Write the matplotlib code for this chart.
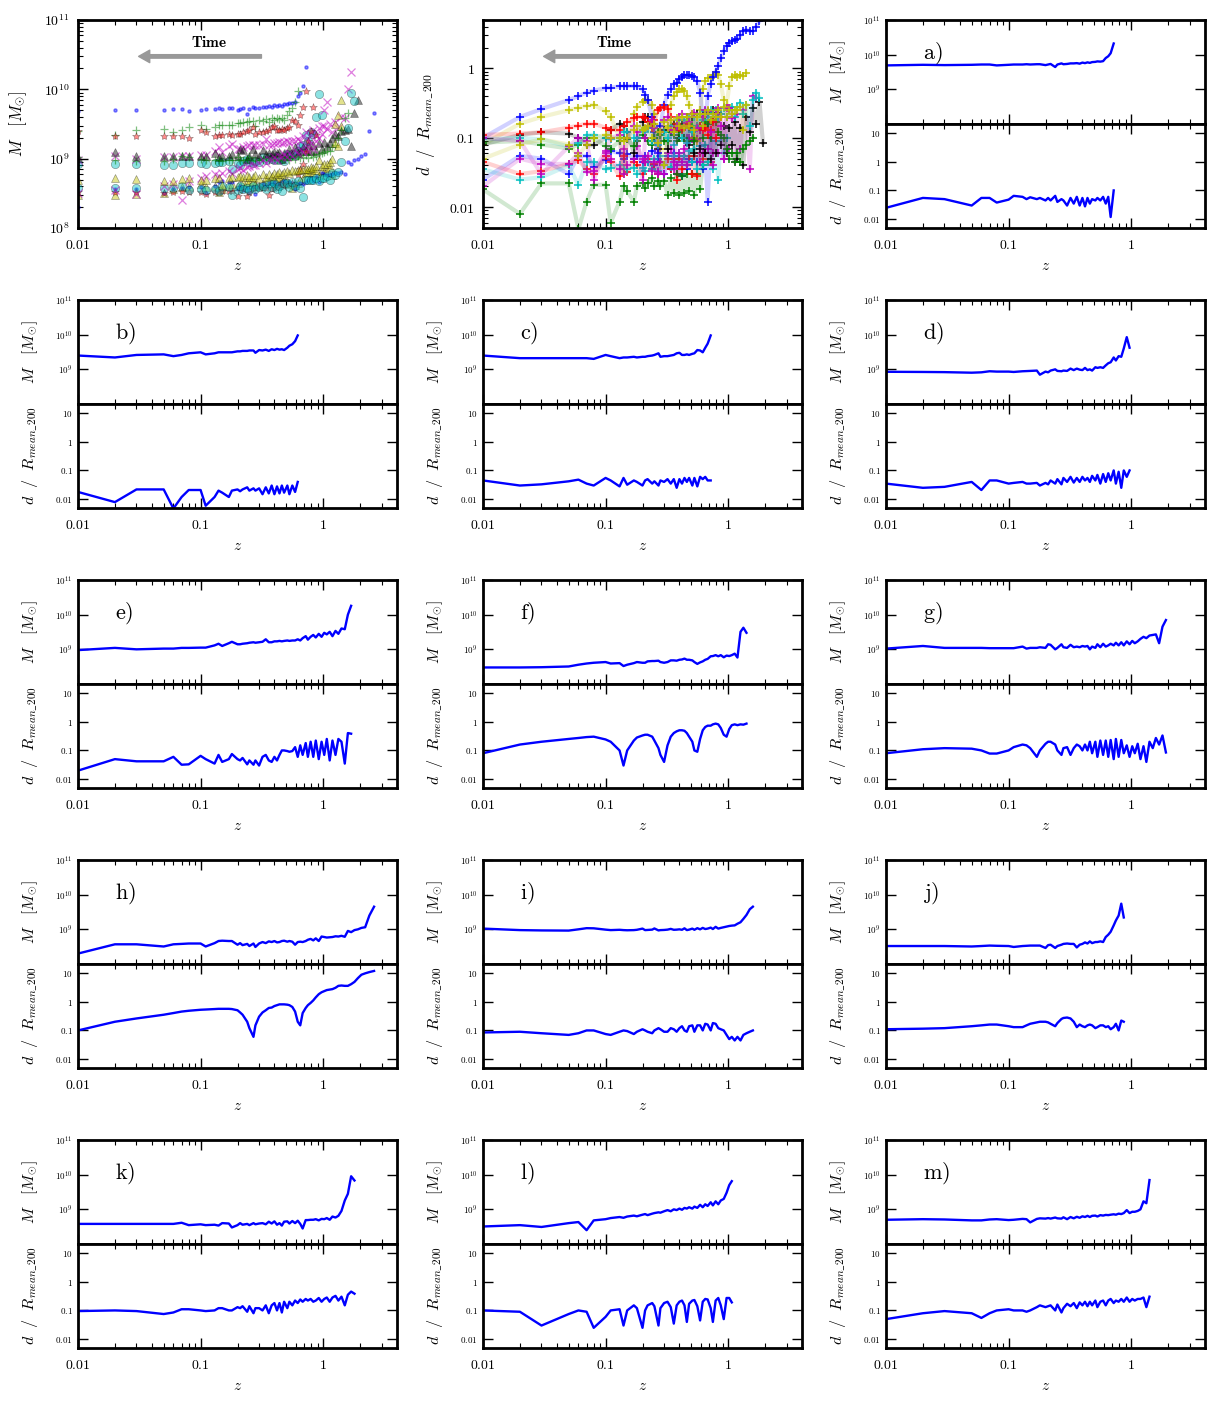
import numpy as np
import matplotlib.pyplot as plt
from matplotlib.ticker import NullFormatter

plt.rcParams['mathtext.fontset'] = 'cm'
plt.rcParams['font.family'] = 'serif'
plt.rcParams['font.serif'] = ['DejaVu Serif']

# snapshot redshifts (each halo uses the first len(...) of them)
Z = [0.01, 0.02, 0.03, 0.05, 0.06, 0.07, 0.08, 0.10, 0.11, 0.13, 0.14, 0.15, 0.17, 0.18,
     0.20, 0.21, 0.22, 0.24, 0.25, 0.27, 0.28, 0.30, 0.32, 0.34, 0.36, 0.38, 0.40, 0.42,
     0.44, 0.46, 0.48, 0.51, 0.53, 0.56, 0.59, 0.62, 0.65, 0.68, 0.72, 0.75, 0.79, 0.83,
     0.87, 0.92, 0.97, 1.02, 1.07, 1.13, 1.19, 1.26, 1.33, 1.41, 1.50, 1.59, 1.69, 1.80,
     1.92, 2.05, 2.20, 2.38, 2.60]

# halo masses in units of 1e9 Msun
M_a = [4.9, 5.1, 5.0, 5.1, 5.2, 5.2, 4.9, 5.1, 5.2, 5.2, 5.3, 5.2, 5.3, 5.3, 5.0, 5.2, 5.4, 4.4, 5.2, 5.6,
       5.3, 5.4, 5.6, 5.6, 5.7, 5.5, 5.9, 5.7, 6.0, 5.8, 6.1, 6.2, 6.4, 6.3, 6.5, 8.0, 9.0, 11.0, 21.0]
M_b = [2.5, 2.2, 2.6, 2.7, 2.4, 2.6, 2.9, 3.1, 2.7, 2.9, 3.1, 3.1, 3.1, 3.1, 3.3, 3.3, 3.4, 3.4, 3.5, 3.5,
       3.0, 3.6, 3.5, 3.7, 3.4, 3.8, 3.6, 3.9, 3.7, 3.8, 3.6, 4.2, 4.8, 5.3, 6.5, 9.5]
M_c = [2.5, 2.1, 2.1, 2.1, 2.1, 2.1, 2.0, 2.6, 2.4, 2.1, 2.2, 2.2, 2.3, 2.2, 2.3, 2.3, 2.4, 2.5, 2.6, 2.9,
       2.3, 2.4, 2.4, 2.5, 2.6, 2.9, 3.0, 2.6, 2.6, 2.7, 2.6, 2.8, 2.9, 3.6, 3.5, 3.1, 4.2, 5.5, 9.5]
M_d = [0.85, 0.84, 0.83, 0.80, 0.82, 0.88, 0.86, 0.86, 0.84, 0.88, 0.89, 0.90, 0.92, 0.70, 0.86, 0.82,
       0.92, 1.0, 0.90, 0.88, 0.92, 0.90, 1.05, 0.95, 1.05, 0.98, 0.95, 1.1, 0.95, 1.0, 0.92, 1.15, 1.1,
       1.15, 1.1, 1.3, 1.5, 1.6, 2.2, 1.8, 2.4, 2.3, 4.0, 8.5, 4.2]
M_e = [0.95, 1.1, 1.0, 1.05, 1.05, 1.1, 1.1, 1.12, 1.12, 1.3, 1.45, 1.25, 1.5, 1.65, 1.4, 1.4, 1.45, 1.5,
       1.55, 1.6, 1.55, 1.6, 1.65, 1.95, 1.6, 1.6, 1.7, 1.7, 1.75, 1.7, 1.75, 1.8, 1.75, 1.8, 1.8, 1.95,
       1.8, 2.1, 2.4, 1.9, 2.3, 2.6, 2.2, 2.8, 2.3, 3.0, 2.7, 3.2, 2.4, 3.4, 2.8, 4.0, 3.8, 10.0, 18.0]
M_f = [0.30, 0.30, 0.305, 0.32, 0.36, 0.39, 0.41, 0.43, 0.39, 0.40, 0.33, 0.36, 0.40, 0.43, 0.41, 0.41,
       0.45, 0.46, 0.46, 0.47, 0.43, 0.41, 0.43, 0.48, 0.48, 0.47, 0.50, 0.51, 0.54, 0.50, 0.50, 0.48,
       0.43, 0.38, 0.42, 0.45, 0.50, 0.53, 0.63, 0.64, 0.68, 0.63, 0.68, 0.59, 0.66, 0.64, 0.68, 0.75,
       0.58, 3.2, 4.2, 3.0]
M_g = [1.05, 1.25, 1.1, 1.1, 1.1, 1.08, 1.08, 1.08, 1.08, 1.2, 1.05, 1.1, 1.1, 1.15, 1.1, 1.4, 1.35, 1.0,
       1.1, 1.4, 1.15, 1.1, 1.35, 1.15, 1.2, 1.15, 1.25, 1.2, 1.25, 1.0, 1.2, 1.1, 1.4, 1.15, 1.45, 1.2,
       1.3, 1.45, 1.3, 1.55, 1.3, 1.6, 1.3, 1.7, 1.4, 1.75, 1.5, 1.7, 2.0, 2.3, 2.1, 2.5, 2.6, 2.7, 1.5,
       4.5, 7.0]
M_h = [0.20, 0.37, 0.37, 0.32, 0.37, 0.38, 0.39, 0.39, 0.32, 0.40, 0.46, 0.47, 0.46, 0.46, 0.36, 0.40,
       0.35, 0.38, 0.33, 0.39, 0.31, 0.39, 0.43, 0.40, 0.45, 0.43, 0.46, 0.42, 0.43, 0.46, 0.47, 0.44,
       0.46, 0.44, 0.36, 0.43, 0.44, 0.43, 0.46, 0.50, 0.53, 0.48, 0.55, 0.46, 0.62, 0.60, 0.58, 0.59,
       0.60, 0.63, 0.62, 0.65, 0.61, 0.90, 0.83, 0.95, 1.0, 1.1, 1.15, 2.5, 4.5]
M_i = [1.05, 0.95, 0.93, 0.92, 1.0, 1.08, 1.07, 0.98, 0.95, 0.97, 0.95, 0.94, 0.95, 0.97, 1.05, 0.95,
       0.96, 0.98, 1.06, 0.93, 0.95, 0.96, 0.98, 1.03, 0.97, 0.98, 1.0, 0.97, 1.07, 0.95, 0.98, 1.05,
       0.97, 1.08, 1.0, 1.1, 1.02, 1.05, 1.12, 1.02, 1.18, 1.05, 1.1, 1.15, 1.2, 1.25, 1.28, 1.3, 1.45,
       1.6, 2.0, 2.6, 3.8, 4.5]
M_j = [0.33, 0.33, 0.33, 0.32, 0.33, 0.34, 0.335, 0.33, 0.31, 0.33, 0.335, 0.34, 0.34, 0.34, 0.29, 0.35,
       0.36, 0.29, 0.33, 0.36, 0.38, 0.39, 0.38, 0.38, 0.30, 0.36, 0.38, 0.42, 0.39, 0.45, 0.40, 0.43,
       0.43, 0.45, 0.43, 0.60, 0.70, 0.85, 1.3, 1.8, 2.5, 5.5, 2.2]
M_k = [0.38, 0.38, 0.38, 0.38, 0.38, 0.41, 0.35, 0.37, 0.35, 0.36, 0.34, 0.40, 0.39, 0.30, 0.35, 0.40,
       0.36, 0.38, 0.35, 0.40, 0.37, 0.39, 0.40, 0.37, 0.44, 0.39, 0.45, 0.36, 0.40, 0.34, 0.44, 0.45,
       0.39, 0.46, 0.40, 0.47, 0.38, 0.28, 0.49, 0.49, 0.50, 0.50, 0.52, 0.48, 0.53, 0.52, 0.56, 0.50,
       0.62, 0.58, 0.65, 0.9, 1.8, 2.8, 9.0, 6.8]
M_l = [0.32, 0.35, 0.31, 0.40, 0.43, 0.25, 0.48, 0.52, 0.56, 0.60, 0.57, 0.62, 0.66, 0.63, 0.70, 0.73,
       0.68, 0.75, 0.78, 0.82, 0.80, 0.88, 0.95, 0.88, 1.0, 0.95, 1.05, 0.97, 1.1, 1.05, 1.15, 1.05, 1.2,
       1.1, 1.35, 1.15, 1.4, 1.25, 1.6, 1.3, 1.7, 1.4, 1.8, 2.0, 3.0, 5.0, 6.5]
M_m = [0.50, 0.52, 0.51, 0.48, 0.48, 0.51, 0.52, 0.49, 0.50, 0.53, 0.52, 0.42, 0.53, 0.55, 0.54, 0.56,
       0.54, 0.58, 0.55, 0.54, 0.59, 0.52, 0.60, 0.55, 0.61, 0.57, 0.63, 0.60, 0.65, 0.60, 0.65, 0.66,
       0.62, 0.68, 0.66, 0.69, 0.68, 0.70, 0.72, 0.70, 0.75, 0.73, 0.78, 0.95, 0.78, 0.85, 0.85, 0.90,
       1.0, 1.7, 1.5, 7.0]

# distance to the host centre in units of R_mean_200
D_a = [0.025, 0.055, 0.05, 0.03, 0.055, 0.055, 0.038, 0.048, 0.065, 0.06, 0.05, 0.058, 0.05, 0.055, 0.045,
       0.055, 0.045, 0.065, 0.04, 0.05, 0.045, 0.03, 0.055, 0.035, 0.06, 0.03, 0.055, 0.028, 0.055, 0.035,
       0.05, 0.045, 0.055, 0.045, 0.06, 0.035, 0.06, 0.012, 0.1]
D_b = [0.018, 0.008, 0.022, 0.022, 0.0048, 0.012, 0.021, 0.021, 0.006, 0.012, 0.02, 0.017, 0.012, 0.02,
       0.022, 0.019, 0.022, 0.026, 0.02, 0.024, 0.02, 0.024, 0.015, 0.026, 0.016, 0.03, 0.015, 0.028, 0.016,
       0.03, 0.017, 0.03, 0.015, 0.03, 0.018, 0.04]
D_c = [0.045, 0.03, 0.033, 0.042, 0.048, 0.035, 0.03, 0.055, 0.045, 0.028, 0.055, 0.032, 0.045, 0.04, 0.03,
       0.045, 0.05, 0.035, 0.042, 0.03, 0.045, 0.04, 0.05, 0.035, 0.05, 0.025, 0.05, 0.035, 0.055, 0.04,
       0.055, 0.03, 0.055, 0.028, 0.06, 0.05, 0.06, 0.045, 0.045]
D_d = [0.035, 0.025, 0.027, 0.04, 0.021, 0.045, 0.045, 0.035, 0.037, 0.04, 0.035, 0.035, 0.037, 0.03,
       0.037, 0.033, 0.045, 0.035, 0.05, 0.033, 0.055, 0.04, 0.06, 0.038, 0.055, 0.04, 0.06, 0.045, 0.055,
       0.04, 0.065, 0.045, 0.07, 0.035, 0.075, 0.04, 0.08, 0.045, 0.1, 0.035, 0.09, 0.025, 0.1, 0.06, 0.1]
D_e = [0.02, 0.05, 0.042, 0.042, 0.06, 0.032, 0.033, 0.065, 0.05, 0.035, 0.07, 0.04, 0.05, 0.075, 0.05,
       0.045, 0.055, 0.033, 0.045, 0.032, 0.045, 0.03, 0.06, 0.07, 0.045, 0.04, 0.06, 0.045, 0.07, 0.1, 0.1,
       0.095, 0.09, 0.095, 0.13, 0.06, 0.15, 0.07, 0.18, 0.06, 0.2, 0.06, 0.22, 0.05, 0.2, 0.07, 0.25, 0.045,
       0.22, 0.07, 0.25, 0.2, 0.035, 0.4, 0.38]
D_f = [0.08, 0.16, 0.2, 0.25, 0.27, 0.29, 0.3, 0.24, 0.2, 0.1, 0.03, 0.1, 0.22, 0.28, 0.33, 0.35, 0.35, 0.3,
       0.22, 0.12, 0.07, 0.04, 0.15, 0.3, 0.4, 0.46, 0.5, 0.5, 0.48, 0.4, 0.3, 0.2, 0.1, 0.09, 0.25, 0.5,
       0.65, 0.72, 0.72, 0.8, 0.85, 0.8, 0.6, 0.35, 0.3, 0.55, 0.75, 0.8, 0.75, 0.8, 0.78, 0.85]
D_g = [0.08, 0.11, 0.12, 0.115, 0.1, 0.078, 0.078, 0.1, 0.13, 0.16, 0.15, 0.12, 0.06, 0.1, 0.17, 0.2, 0.2,
       0.16, 0.1, 0.07, 0.12, 0.13, 0.07, 0.12, 0.16, 0.14, 0.1, 0.16, 0.1, 0.2, 0.08, 0.2, 0.06, 0.22, 0.07,
       0.22, 0.06, 0.23, 0.05, 0.25, 0.06, 0.23, 0.08, 0.15, 0.06, 0.14, 0.08, 0.17, 0.05, 0.14, 0.04, 0.2,
       0.12, 0.27, 0.16, 0.33, 0.085]
D_h = [0.1, 0.2, 0.26, 0.35, 0.4, 0.45, 0.48, 0.52, 0.53, 0.55, 0.56, 0.56, 0.56, 0.55, 0.5, 0.42, 0.35, 0.2,
       0.12, 0.06, 0.15, 0.3, 0.42, 0.5, 0.6, 0.62, 0.7, 0.75, 0.8, 0.8, 0.8, 0.78, 0.75, 0.65, 0.45, 0.2,
       0.15, 0.4, 0.6, 0.75, 0.9, 1.1, 1.4, 1.8, 2.1, 2.3, 2.5, 2.6, 2.7, 3.0, 3.5, 3.6, 3.5, 3.5, 4.0, 4.8,
       6.5, 8.5, 9.5, 10.5, 11.5]
D_i = [0.085, 0.09, 0.08, 0.07, 0.08, 0.1, 0.1, 0.075, 0.07, 0.09, 0.1, 0.095, 0.075, 0.09, 0.11, 0.1, 0.09,
       0.08, 0.1, 0.12, 0.11, 0.09, 0.09, 0.12, 0.11, 0.09, 0.12, 0.14, 0.1, 0.09, 0.14, 0.15, 0.09, 0.15,
       0.15, 0.1, 0.17, 0.16, 0.1, 0.18, 0.17, 0.12, 0.11, 0.1, 0.07, 0.05, 0.06, 0.045, 0.06, 0.045, 0.07,
       0.08, 0.09, 0.1]
D_j = [0.11, 0.115, 0.12, 0.14, 0.15, 0.16, 0.16, 0.14, 0.13, 0.13, 0.15, 0.17, 0.19, 0.2, 0.2, 0.19, 0.17,
       0.14, 0.18, 0.25, 0.27, 0.28, 0.26, 0.2, 0.13, 0.16, 0.14, 0.13, 0.15, 0.16, 0.15, 0.12, 0.13, 0.15,
       0.15, 0.13, 0.14, 0.11, 0.13, 0.17, 0.1, 0.22, 0.2]
D_k = [0.095, 0.1, 0.095, 0.075, 0.085, 0.11, 0.11, 0.1, 0.095, 0.1, 0.12, 0.12, 0.1, 0.1, 0.13, 0.12, 0.14,
       0.09, 0.14, 0.08, 0.12, 0.12, 0.1, 0.15, 0.08, 0.15, 0.18, 0.1, 0.18, 0.085, 0.2, 0.12, 0.2, 0.15,
       0.22, 0.18, 0.24, 0.2, 0.25, 0.22, 0.25, 0.2, 0.22, 0.27, 0.2, 0.25, 0.28, 0.2, 0.28, 0.32, 0.22, 0.3,
       0.15, 0.35, 0.45, 0.38]
D_l = [0.1, 0.09, 0.03, 0.075, 0.1, 0.09, 0.025, 0.06, 0.1, 0.11, 0.03, 0.1, 0.15, 0.12, 0.025, 0.1, 0.15,
       0.18, 0.14, 0.03, 0.12, 0.18, 0.2, 0.13, 0.035, 0.15, 0.2, 0.22, 0.15, 0.04, 0.17, 0.22, 0.23, 0.14,
       0.045, 0.2, 0.25, 0.24, 0.12, 0.04, 0.22, 0.27, 0.15, 0.05, 0.27, 0.27, 0.19]
D_m = [0.05, 0.08, 0.095, 0.08, 0.055, 0.08, 0.1, 0.11, 0.1, 0.1, 0.09, 0.1, 0.13, 0.15, 0.13, 0.14, 0.15,
       0.1, 0.16, 0.085, 0.12, 0.17, 0.14, 0.18, 0.12, 0.19, 0.15, 0.2, 0.14, 0.2, 0.15, 0.22, 0.13, 0.2,
       0.22, 0.15, 0.22, 0.25, 0.18, 0.22, 0.2, 0.25, 0.2, 0.28, 0.2, 0.25, 0.22, 0.25, 0.25, 0.28, 0.13, 0.3]

letters = ['a', 'b', 'c', 'd', 'e', 'f', 'g', 'h', 'i', 'j', 'k', 'l', 'm']
masses = [M_a, M_b, M_c, M_d, M_e, M_f, M_g, M_h, M_i, M_j, M_k, M_l, M_m]
dists = [D_a, D_b, D_c, D_d, D_e, D_f, D_g, D_h, D_i, D_j, D_k, D_l, D_m]
colors = ['b', 'g', 'r', 'c', 'm', 'y', 'k', 'b', 'g', 'r', 'c', 'm', 'y']
markers = ['.', '+', '*', 'o', 'x', '^', '^', '.', '+', '*', 'o', 'x', '^']

W, H = 1221, 1405
fig = plt.figure(figsize=(W / 100, H / 100), dpi=100)

COLS = [78, 483, 886]
AXW = 319


def add_px(left, top, width, height):
    return fig.add_axes([left / W, 1 - (top + height) / H, width / W, height / H])


def style(ax):
    ax.set_xscale('log')
    ax.set_yscale('log')
    ax.set_xlim(0.01, 4)
    ax.tick_params(which='both', direction='in', top=True, right=True)
    ax.tick_params(which='major', length=7, width=1)
    ax.tick_params(which='minor', length=3.5, width=0.8)
    ax.tick_params(axis='x', pad=7)
    ax.tick_params(axis='y', pad=6)
    for s in ax.spines.values():
        s.set_linewidth(2)
    ax.set_xticks([0.01, 0.1, 1])
    ax.set_xticklabels(['$0.01$', '$0.1$', '$1$'], fontsize=10)
    ax.xaxis.set_minor_formatter(NullFormatter())
    ax.yaxis.set_minor_formatter(NullFormatter())


def time_arrow(ax, x_text):
    ax.annotate('', xy=(0.19, 0.825), xytext=(0.575, 0.825), xycoords='axes fraction',
                arrowprops=dict(facecolor='0.6', edgecolor='0.6', width=2.5, headwidth=9, headlength=8))
    ax.text(x_text, 0.89, r'$\mathbf{Time}$', transform=ax.transAxes, fontsize=11,
            ha='center', va='center')


M_LABEL = r'$M\ \ \ [M_{\odot}]$'
D_LABEL = r'$d\ \ /\ \ R_{mean\_200}$'

# top-left: masses of all halos
ax = add_px(COLS[0], 20, AXW, 208)
style(ax)
for m, c, mk in zip(masses, colors, markers):
    z = Z[:len(m)]
    mv = np.array(m) * 1e9
    if mk in ('+', 'x'):
        ax.plot(z, mv, ls='none', marker=mk, color=c, ms=5.5, mew=0.9, alpha=0.5)
    elif mk == '.':
        ax.plot(z, mv, ls='none', marker=mk, color=c, ms=4.5, alpha=0.45)
    else:
        ax.plot(z, mv, ls='none', marker=mk, mfc=c, mec='k', mew=0.4, ms=6, alpha=0.45)
ax.set_ylim(1e8, 1e11)
ax.set_yticks([1e8, 1e9, 1e10, 1e11])
ax.set_yticklabels(['$10^{8}$', '$10^{9}$', '$10^{10}$', '$10^{11}$'], fontsize=10)
ax.set_ylabel(M_LABEL, fontsize=12)
ax.yaxis.set_label_coords(-0.155, 0.5)
ax.set_xlabel('$z$', fontsize=11)
ax.xaxis.set_label_coords(0.5, -0.15)
time_arrow(ax, 0.41)

# top-middle: distances of all halos
ax = add_px(COLS[1], 20, AXW, 208)
style(ax)
for d, c in zip(dists, colors):
    z = Z[:len(d)]
    ax.plot(z, d, color=c, lw=3, alpha=0.18)
    ax.plot(z, d, ls='none', marker='+', color=c, ms=6, mew=1.1)
ax.set_ylim(0.005, 5)
ax.set_yticks([0.01, 0.1, 1])
ax.set_yticklabels(['$0.01$', '$0.1$', '$1$'], fontsize=10)
ax.set_ylabel(D_LABEL, fontsize=12)
ax.yaxis.set_label_coords(-0.145, 0.5)
ax.set_xlabel('$z$', fontsize=11)
ax.xaxis.set_label_coords(0.5, -0.15)
time_arrow(ax, 0.41)

# individual halos a) ... m)
slots = [(0, 2)] + [(r, c) for r in range(1, 5) for c in range(3)]
for (row, col), letter, m, d in zip(slots, letters, masses, dists):
    left = COLS[col]
    top = 20 + 280 * row
    ax1 = add_px(left, top, AXW, 104)
    ax2 = add_px(left, top + 104, AXW, 104)
    for a in (ax1, ax2):
        style(a)
        a.tick_params(axis='y', pad=4)
    ax1.plot(Z[:len(m)], np.array(m) * 1e9, color='b', lw=1.7)
    ax1.set_ylim(1e8, 1e11)
    ax1.set_yticks([1e9, 1e10, 1e11])
    ax1.set_yticklabels(['$10^{9}$', '$10^{10}$', '$10^{11}$'], fontsize=6.5)
    ax1.tick_params(labelbottom=False)
    ax1.set_ylabel(M_LABEL, fontsize=11.5)
    ax1.yaxis.set_label_coords(-0.12, 0.5)
    ax1.text(0.115, 0.68, r'$\mathrm{%s)}$' % letter, transform=ax1.transAxes,
             fontsize=16, ha='left', va='center')

    ax2.plot(Z[:len(d)], d, color='b', lw=1.7)
    ax2.set_ylim(0.005, 20)
    ax2.set_yticks([0.01, 0.1, 1, 10])
    ax2.set_yticklabels(['$0.01$', '$0.1$', '$1$', '$10$'], fontsize=6.5)
    ax2.set_ylabel(D_LABEL, fontsize=11.5)
    ax2.yaxis.set_label_coords(-0.12, 0.5)
    ax2.set_xlabel('$z$', fontsize=11)
    ax2.xaxis.set_label_coords(0.5, -0.3)

fig.savefig('out.png', dpi=100)
